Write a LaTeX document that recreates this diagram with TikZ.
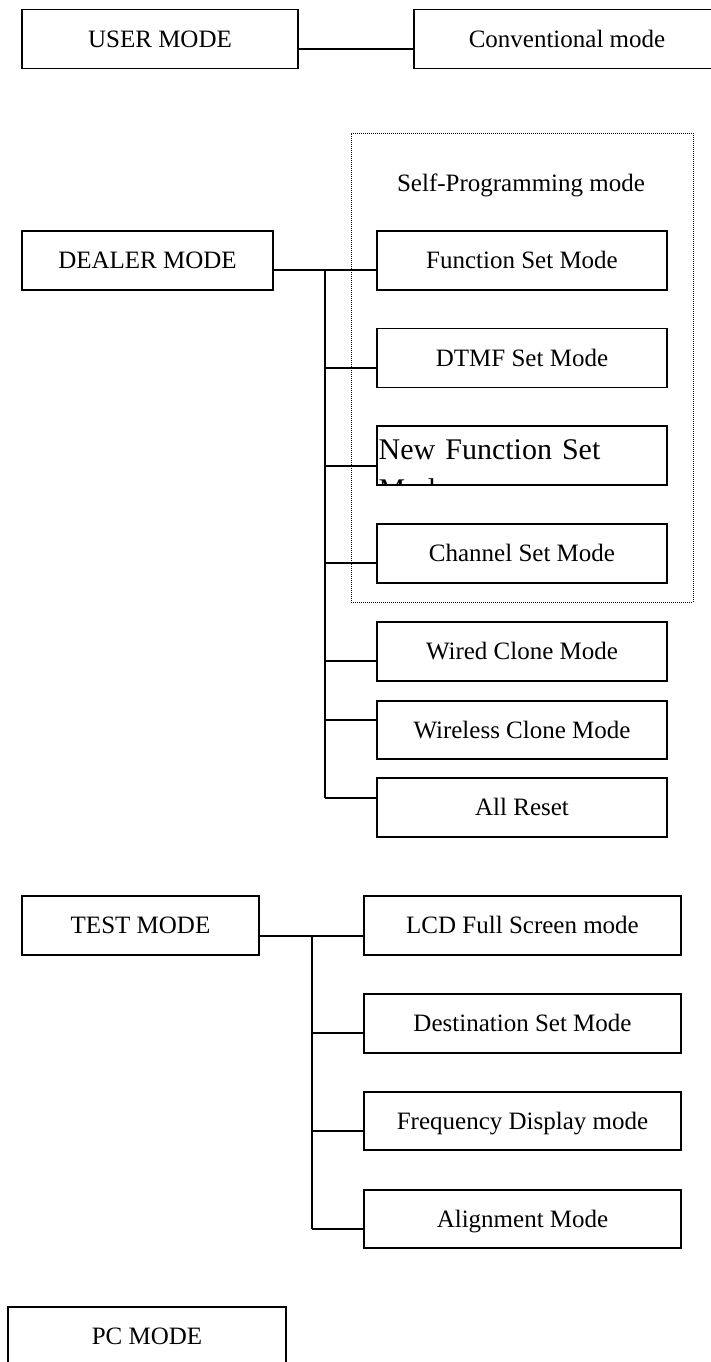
\documentclass[tikz,border=0pt]{standalone}
\usepackage{fontspec}
\setmainfont{Liberation Serif}
\begin{document}
\begin{tikzpicture}[x=1pt,y=-1pt,
  modebox/.style={draw, line width=1.5pt, minimum height=59pt, inner sep=0pt,
    text height=16.5pt, text depth=0pt, font=\fontsize{25}{30}\selectfont},
  subbox/.style={modebox, minimum width=290pt},
  testbox/.style={modebox, minimum width=317pt},
  conn/.style={line width=1.3pt},
  groupbox/.style={draw, dash pattern=on 1pt off 1pt, line width=0.9pt, inner sep=0pt},
  plain/.style={inner sep=0pt, text height=16.5pt, text depth=0pt, font=\fontsize{25}{30}\selectfont}]
\useasboundingbox (0,0) rectangle (711,1362);

% ---- user mode ----
\node[modebox, minimum width=276pt] (user) at (160,39) {USER MODE};
\node[modebox, minimum width=306pt] (conv) at (567,39) {Conventional mode};
\coordinate (u1) at (356,49);
\draw[conn] (user.east |- u1) -- (conv.west |- u1);

% ---- dealer mode ----
\node[groupbox, minimum width=342pt, minimum height=469pt] (spbox) at (522,367.5) {};
\node[plain] (sptitle) at (521,183) {Self-Programming mode};
\node[modebox, minimum width=251pt] (dealer) at (147.5,260.5) {DEALER MODE};
\node[subbox] (func) at (522,260.5) {Function Set Mode};
\node[subbox] (dtmf) at (522,358) {DTMF Set Mode};
\begin{scope}
  \clip (377,426) rectangle (667,485);
  \node[anchor=north west, inner sep=0pt, text width=288pt, align=left,
        font=\fontsize{30}{40}\selectfont] (newftext) at (378.5,439) {New Function Set Mode};
\end{scope}
\node[subbox] (newf) at (522,455.5) {};
\node[subbox] (chan) at (522,553.5) {Channel Set Mode};
\node[subbox] (wired) at (522,651.5) {Wired Clone Mode};
\node[subbox, minimum height=58pt] (wless) at (522,730) {Wireless Clone Mode};
\node[subbox] (reset) at (522,807.5) {All Reset};

\coordinate (d1) at (325,270);
\coordinate (d2) at (325,368);
\coordinate (d3) at (325,466);
\coordinate (d4) at (325,563);
\coordinate (d5) at (325,661);
\coordinate (d6) at (325,720);
\coordinate (d7) at (325,798);
\draw[conn] (dealer.east |- d1) -- (func.west |- d1);
\draw[conn] (d1) -- (d7);
\draw[conn] (d2) -- (dtmf.west |- d2);
\draw[conn] (d3) -- (newf.west |- d3);
\draw[conn] (d4) -- (chan.west |- d4);
\draw[conn] (d5) -- (wired.west |- d5);
\draw[conn] (d6) -- (wless.west |- d6);
\draw[conn] (d7) -- (reset.west |- d7);

% ---- test mode ----
\node[modebox, minimum width=237pt] (test) at (140.5,925.5) {TEST MODE};
\node[testbox] (lcd) at (522.5,925.5) {LCD Full Screen mode};
\node[testbox] (dest) at (522.5,1023.5) {Destination Set Mode};
\node[testbox, minimum height=58pt] (freq) at (522.5,1121) {Frequency Display mode};
\node[testbox, minimum height=58pt] (alig) at (522.5,1219) {Alignment Mode};
\coordinate (t1) at (312,936);
\coordinate (t2) at (312,1033);
\coordinate (t3) at (312,1131);
\coordinate (t4) at (312,1229);
\draw[conn] (test.east |- t1) -- (lcd.west |- t1);
\draw[conn] (t1) -- (t4);
\draw[conn] (t2) -- (dest.west |- t2);
\draw[conn] (t3) -- (freq.west |- t3);
\draw[conn] (t4) -- (alig.west |- t4);

% ---- pc mode ----
\node[modebox, minimum width=278pt] (pc) at (147,1336.5) {PC MODE};
\end{tikzpicture}
\end{document}
